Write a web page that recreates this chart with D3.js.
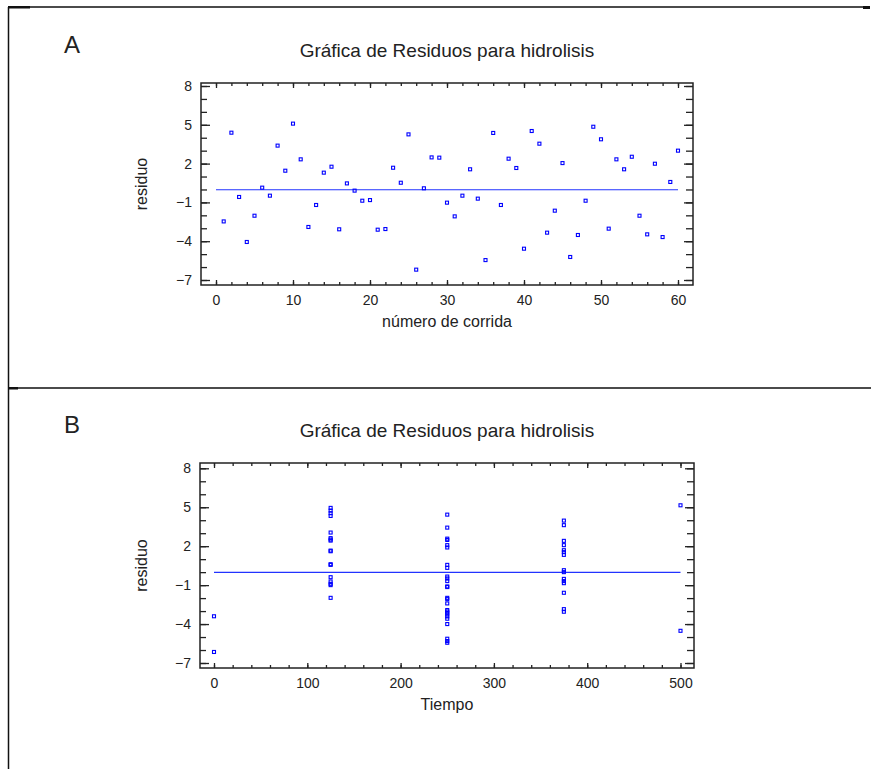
<!DOCTYPE html>
<html>
<head>
<meta charset="utf-8">
<script src="https://cdn.jsdelivr.net/npm/d3@7"></script>
<style>
  body { margin: 0; background: #fff; }
  text { font-family: "Liberation Sans", Arial, sans-serif; fill: #222; }
</style>
</head>
<body>
<script>
// residuals by run number (panel A)
var runNumber = [1,2,3,4,5,6,7,8,9,10,11,12,13,14,15,16,17,18,19,20,
  21,22,23,24,25,26,27,28,29,30,31,32,33,34,35,36,37,38,39,40,
  41,42,43,44,45,46,47,48,49,50,51,52,53,54,55,56,57,58,59,60];
var residuoRun = [-2.47, 4.39, -0.58, -4.06, -2.03, 0.14, -0.48, 3.39, 1.45, 5.09,
  2.33, -2.9, -1.2, 1.3, 1.76, -3.08, 0.47, -0.09, -0.87, -0.82,
  -3.11, -3.06, 1.68, 0.52, 4.26, -6.2, 0.09, 2.48, 2.46, -1.02,
  -2.08, -0.48, 1.56, -0.71, -5.46, 4.37, -1.2, 2.38, 1.66, -4.58,
  4.52, 3.54, -3.34, -1.64, 2.04, -5.22, -3.52, -0.87, 4.85, 3.88,
  -3.03, 2.33, 1.56, 2.53, -2.03, -3.47, 1.99, -3.68, 0.58, 3.0];

// residuals by Tiempo (panel B)
var tiempoLevels = [0, 125, 250, 375, 500];
var residuoT0 = [-3.4, -6.15];
var residuoT125 = [4.95, 4.74, 4.54, 4.33, 3.05, 2.62, 2.51, 2.43, 1.66, 1.61,
  0.61, 0.56, -0.39, -0.72, -0.9, -1.0, -1.98];
var residuoT250 = [4.43, 3.43, 2.58, 2.48, 2.08, 1.9, 0.56, 0.33, -0.34, -0.49,
  -0.69, -1.1, -1.15, -1.98, -2.08, -2.41, -2.92, -3.03, -3.13, -3.26,
  -3.41, -3.59, -4.0, -5.13, -5.31, -5.44];
var residuoT375 = [3.97, 3.62, 2.41, 2.08, 1.69, 1.54, 1.33, 0.15, 0.0, -0.52,
  -0.69, -0.85, -1.59, -2.85, -3.05];
var residuoT500 = [5.15, -4.52];

var yTicks = [-7, -4, -1, 2, 5, 8];
var yMinor = [-7,-6,-5,-4,-3,-2,-1,0,1,2,3,4,5,6,7,8];
var runTicks = [0, 10, 20, 30, 40, 50, 60];
var tiempoTicks = [0, 100, 200, 300, 400, 500];

var titulo = "Gráfica de Residuos para hidrolisis";

var width = 871, height = 769;
var svg = d3.select("body").append("svg")
  .attr("width", width)
  .attr("height", height);

// table borders
svg.append("path")
  .attr("d", "M8.5,7 V769 M8,7 H869 M8,388 H871")
  .attr("fill", "none")
  .attr("stroke", "#111")
  .attr("stroke-width", 1.5);
svg.append("rect").attr("x", 8).attr("y", 6).attr("width", 22).attr("height", 2.5).attr("fill", "#111");
svg.append("rect").attr("x", 863).attr("y", 6).attr("width", 7).attr("height", 3).attr("fill", "#111");
svg.append("rect").attr("x", 8).attr("y", 387).attr("width", 10).attr("height", 2.5).attr("fill", "#111");

function panel(cfg) {
  var g = svg.append("g").attr("transform", "translate(0," + cfg.dy + ")");
  var f = cfg.frame, x = cfg.x, y = cfg.y;

  g.append("text")
    .attr("x", 64).attr("y", 53)
    .style("font-size", "24px")
    .text(cfg.letter);

  g.append("text")
    .attr("x", (f.l + f.r) / 2).attr("y", 57)
    .attr("text-anchor", "middle")
    .style("font-size", "19px")
    .text(titulo);

  // minor ticks
  g.append("g").attr("transform", "translate(" + f.l + ",0)")
    .call(d3.axisLeft(y).tickValues(yMinor).tickSize(-6).tickFormat(""));
  g.append("g").attr("transform", "translate(" + f.r + ",0)")
    .call(d3.axisRight(y).tickValues(yMinor).tickSize(-7).tickFormat(""));
  g.append("g").attr("transform", "translate(0," + f.b + ")")
    .call(d3.axisBottom(x).tickValues(cfg.xMinor).tickSize(-3).tickFormat(""));
  g.append("g").attr("transform", "translate(0," + f.t + ")")
    .call(d3.axisTop(x).tickValues(cfg.xMinor).tickSize(-3).tickFormat(""));

  // major ticks + labels
  g.append("g").attr("transform", "translate(" + f.l + ",0)")
    .call(d3.axisLeft(y).tickValues(yTicks).tickSize(-9).tickPadding(9));
  g.append("g").attr("transform", "translate(" + f.r + ",0)")
    .call(d3.axisRight(y).tickValues(yTicks).tickSize(-9).tickFormat(""));
  g.append("g").attr("transform", "translate(0," + f.b + ")")
    .call(d3.axisBottom(x).tickValues(cfg.xTicks).tickSize(-5).tickPadding(10));
  g.append("g").attr("transform", "translate(0," + f.t + ")")
    .call(d3.axisTop(x).tickValues(cfg.xTicks).tickSize(-5).tickFormat(""));

  g.selectAll(".domain").remove();
  g.selectAll(".tick line").attr("stroke", "#222").attr("stroke-width", 1.3);
  g.selectAll(".tick text")
    .style("font-size", "14px")
    .style("font-family", "'Liberation Sans', Arial, sans-serif")
    .attr("fill", "#222");

  g.append("rect")
    .attr("x", f.l).attr("y", f.t)
    .attr("width", f.r - f.l).attr("height", f.b - f.t)
    .attr("fill", "none")
    .attr("stroke", "#222")
    .attr("stroke-width", 1.5);

  // zero line
  g.append("line")
    .attr("x1", x(cfg.xTicks[0])).attr("x2", x(cfg.xTicks[cfg.xTicks.length - 1]))
    .attr("y1", y(0) + 0.3).attr("y2", y(0) + 0.3)
    .attr("stroke", "#2233ff")
    .attr("stroke-width", 1.2);

  g.append("g")
    .selectAll("rect")
    .data(cfg.points)
    .enter()
    .append("rect")
    .attr("x", d => x(d[0]) - 1.5)
    .attr("y", d => y(d[1]) - 1.5)
    .attr("width", 3).attr("height", 3)
    .attr("fill", "none")
    .attr("stroke", "#0000ff")
    .attr("stroke-width", 1.1);

  g.append("text")
    .attr("transform", "translate(147," + (f.t + f.b) / 2 + ") rotate(-90)")
    .attr("text-anchor", "middle")
    .style("font-size", "16px")
    .text("residuo");

  g.append("text")
    .attr("x", (f.l + f.r) / 2).attr("y", f.b + 42)
    .attr("text-anchor", "middle")
    .style("font-size", "16px")
    .text(cfg.xLabel);
}

// panel A
var pointsA = runNumber.map((r, i) => [r, residuoRun[i]]);
panel({
  letter: "A", dy: 0, xLabel: "número de corrida",
  frame: {l: 201, r: 693, t: 83, b: 285},
  x: d3.scaleLinear().domain([0, 60]).range([216, 678]),
  y: d3.scaleLinear().domain([-7, 8]).range([280, 86]),
  xTicks: runTicks,
  xMinor: d3.range(0, 61, 2),
  points: pointsA
});

// panel B
var groupsB = [residuoT0, residuoT125, residuoT250, residuoT375, residuoT500];
var pointsB = [];
groupsB.forEach((vals, i) => vals.forEach(v => pointsB.push([tiempoLevels[i], v])));
panel({
  letter: "B", dy: 380, xLabel: "Tiempo",
  frame: {l: 200, r: 694, t: 83, b: 288},
  x: d3.scaleLinear().domain([0, 500]).range([214, 680.5]),
  y: d3.scaleLinear().domain([-7, 8]).range([283, 88.3]),
  xTicks: tiempoTicks,
  xMinor: d3.range(0, 501, 20),
  points: pointsB
});
</script>
</body>
</html>
